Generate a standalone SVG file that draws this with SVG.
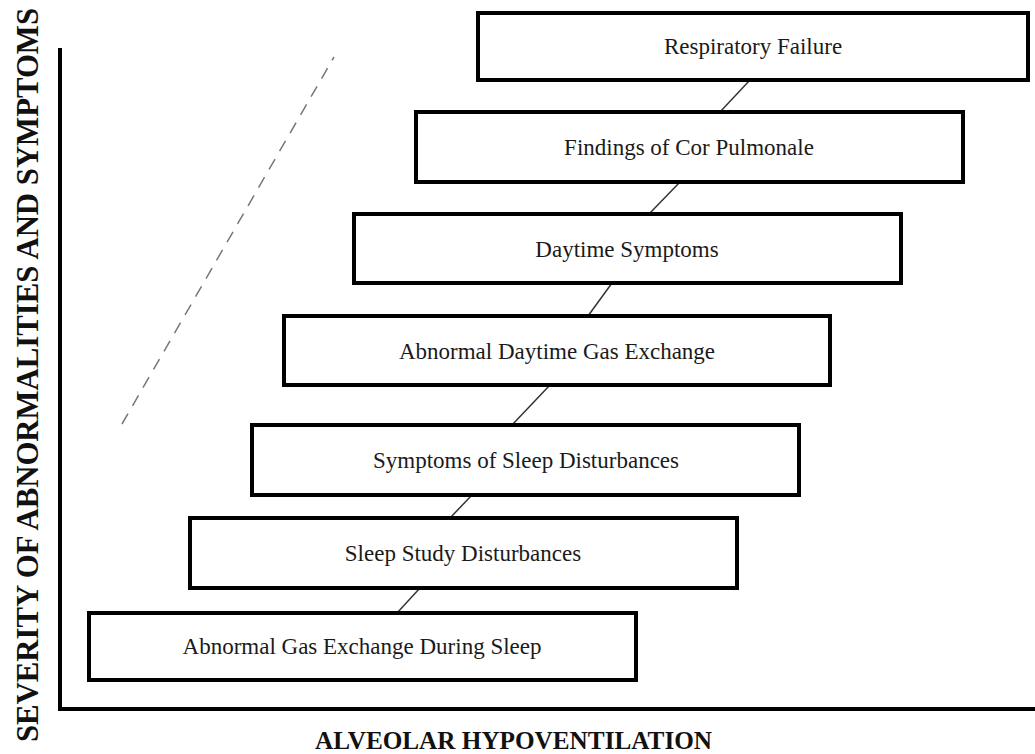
<svg xmlns="http://www.w3.org/2000/svg" width="1035" height="754" viewBox="0 0 1035 754">
<style>
.box{fill:#fff;stroke:#000;stroke-width:4}
.lbl{font-family:"Liberation Serif","Times New Roman",serif;font-size:23px;fill:#1a1a1a;text-anchor:middle;dominant-baseline:central}
.axis{fill:none;stroke:#000;stroke-width:4}
.ax{font-family:"Liberation Serif","Times New Roman",serif;font-weight:bold;fill:#111}
.con{stroke:#333;stroke-width:1.5;fill:none}
</style>
<rect width="1035" height="754" fill="#fff"/>
<g id="axes">
<polyline class="axis" points="60,48 60,709 1035,709"/>
<line x1="122" y1="424" x2="334" y2="57" stroke="#777" stroke-width="1.5" stroke-dasharray="12,9"/>
<text class="ax" font-size="31" transform="translate(38,375) rotate(-90)" text-anchor="middle" textLength="734" lengthAdjust="spacingAndGlyphs">SEVERITY OF ABNORMALITIES AND SYMPTOMS</text>
<text class="ax" font-size="26" x="315" y="749" textLength="397" lengthAdjust="spacingAndGlyphs">ALVEOLAR HYPOVENTILATION</text>
</g>
<g id="connectors">
<line class="con" x1="750" y1="80" x2="720" y2="112"/>
<line class="con" x1="680" y1="182" x2="649" y2="214"/>
<line class="con" x1="612" y1="283" x2="588" y2="316"/>
<line class="con" x1="550" y1="385" x2="512" y2="425"/>
<line class="con" x1="472" y1="495" x2="450" y2="518"/>
<line class="con" x1="420" y1="588" x2="397" y2="613"/>
</g>
<g id="n1"><rect class="box" x="478" y="13" width="550" height="67"/><text class="lbl" x="753" y="46">Respiratory Failure</text></g>
<g id="n2"><rect class="box" x="416" y="112" width="547" height="70"/><text class="lbl" x="689" y="147">Findings of Cor Pulmonale</text></g>
<g id="n3"><rect class="box" x="354" y="214" width="547" height="69"/><text class="lbl" x="627" y="249">Daytime Symptoms</text></g>
<g id="n4"><rect class="box" x="284" y="316" width="546" height="69"/><text class="lbl" x="557" y="351">Abnormal Daytime Gas Exchange</text></g>
<g id="n5"><rect class="box" x="252" y="425" width="547" height="70"/><text class="lbl" x="526" y="460">Symptoms of Sleep Disturbances</text></g>
<g id="n6"><rect class="box" x="190" y="518" width="547" height="70"/><text class="lbl" x="463" y="553">Sleep Study Disturbances</text></g>
<g id="n7"><rect class="box" x="89" y="613" width="547" height="67"/><text class="lbl" x="362" y="646">Abnormal Gas Exchange During Sleep</text></g>
</svg>
